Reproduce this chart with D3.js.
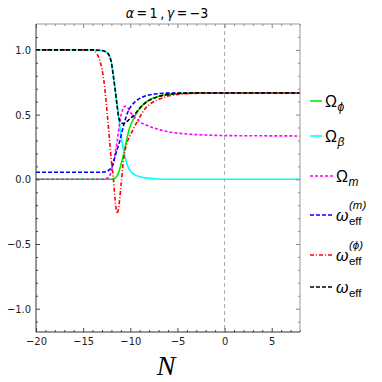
<!DOCTYPE html>
<html>
<head>
<meta charset="utf-8">
<script src="https://cdn.jsdelivr.net/npm/d3@7"></script>
<style>
  body { margin: 0; background: #fff; }
  svg { display: block; }
</style>
</head>
<body>
<script>
// values, as [N, value]
const omegaPhi = [[-20,0],[-12,0],[-11.6,0.01],[-11.3,0.04],[-11,0.11],[-10.7,0.2],[-10.4,0.3],
  [-10.1,0.39],[-9.7,0.46],[-9.3,0.515],[-8.9,0.555],[-8.4,0.593],[-8,0.613],[-7,0.642],
  [-6,0.656],[-5,0.662],[-4,0.665],[-2,0.667],[8,0.667]]
const omegaBeta = [[-20,1],[-14,1],[-13,0.995],[-12.5,0.98],[-12.2,0.95],[-12,0.9],[-11.8,0.8],
  [-11.6,0.69],[-11.4,0.57],[-11.2,0.46],[-11,0.35],[-10.8,0.26],[-10.6,0.19],[-10.4,0.13],
  [-10.2,0.09],[-10,0.065],[-9.8,0.05],[-9.4,0.03],[-9,0.02],[-8,0.007],[-7,0.002],[-6,0],[8,0]]
const omegaM = [[-20,0],[-13,0],[-12.4,0.01],[-12.1,0.04],[-11.8,0.12],[-11.6,0.2],[-11.3,0.34],
  [-11.05,0.47],[-10.8,0.54],[-10.55,0.565],[-10.3,0.555],[-10,0.52],[-9.5,0.475],[-9,0.445],
  [-8.5,0.425],[-8,0.41],[-7,0.385],[-6,0.368],[-5,0.357],[-4,0.35],[-2,0.342],[0,0.338],
  [4,0.336],[8,0.335]]
const wEffM = [[-20,0.055],[-13,0.055],[-12.5,0.06],[-12.2,0.075],[-12,0.09],[-11.8,0.13],
  [-11.6,0.18],[-11.4,0.23],[-11.1,0.3],[-10.8,0.39],[-10.5,0.47],[-10.2,0.53],[-9.8,0.575],
  [-9.4,0.605],[-9,0.625],[-8.5,0.642],[-8,0.652],[-7,0.662],[-6,0.666],[8,0.667]]
const wEffPhi = [[-20,1],[-14,1],[-13.5,0.965],[-13.2,0.91],[-13,0.85],[-12.8,0.76],[-12.6,0.63],
  [-12.4,0.47],[-12.2,0.3],[-12,0.14],[-11.8,0.01],[-11.6,-0.16],[-11.4,-0.265],[-11.2,-0.2],
  [-11,-0.06],[-10.7,0.16],[-10.4,0.27],[-10,0.34],[-9.6,0.4],[-9,0.48],[-8.5,0.54],[-8,0.575],
  [-7.2,0.612],[-6.5,0.63],[-6,0.643],[-5,0.655],[-4,0.661],[-2,0.666],[8,0.667]]
const wEff = [[-20,1],[-14,1],[-13,0.995],[-12.5,0.98],[-12.2,0.95],[-12,0.9],[-11.8,0.8],
  [-11.6,0.69],[-11.4,0.57],[-11.2,0.47],[-11,0.44],[-10.7,0.43],[-10.3,0.45],[-10,0.47],
  [-9.6,0.495],[-9,0.55],[-8.5,0.585],[-8,0.61],[-7,0.64],[-6,0.655],[-5,0.663],[-4,0.666],
  [-2,0.667],[8,0.667]]

const xTicks = [-20, -15, -10, -5, 0, 5]
const yTicks = [-1.0, -0.5, 0.0, 0.5, 1.0]
const xDomain = [-20, 8]
const yDomain = [-1.18, 1.2]

const series = [
  { data: omegaPhi, color: '#00ee00', dash: null, main: 'Ω', sub: 'ϕ', sup: null, long: false },
  { data: omegaBeta, color: '#00ffff', dash: null, main: 'Ω', sub: 'β', sup: null, long: false },
  { data: omegaM, color: '#ff00ff', dash: '3,2', main: 'Ω', sub: 'm', sup: null, long: true },
  { data: wEffM, color: '#0000ff', dash: '4,2', main: 'ω', sub: 'eff', sup: '(m)', long: true },
  { data: wEffPhi, color: '#ff0000', dash: '4,2,1,2', main: 'ω', sub: 'eff', sup: '(ϕ)', long: true },
  { data: wEff, color: '#000000', dash: '4,2', main: 'ω', sub: 'eff', sup: null, long: true }
]

const W = 382, H = 382
const pLeft = 36, pRight = 300, pTop = 24, pBottom = 332

const svg = d3.select('body').append('svg')
  .attr('width', W).attr('height', H)

const x = d3.scaleLinear().domain(xDomain).range([pLeft, pRight])
const y = d3.scaleLinear().domain(yDomain).range([pBottom, pTop])

svg.append('defs').append('clipPath').attr('id', 'clip')
  .append('rect')
  .attr('x', pLeft).attr('y', pTop)
  .attr('width', pRight - pLeft).attr('height', pBottom - pTop)

// title
const title = svg.append('text')
  .attr('x', 167).attr('y', 18)
  .attr('text-anchor', 'middle')
  .style('font-family', 'DejaVu Sans Condensed')
  .style('font-size', '14px')
title.append('tspan').style('font-style', 'italic').text('α')
title.append('tspan').text('\u2009=\u20091\u2009,\u2009')
title.append('tspan').style('font-style', 'italic').text('γ')
title.append('tspan').text('\u2009=\u2009−3')

// zero line
svg.append('line')
  .attr('x1', x(0)).attr('x2', x(0))
  .attr('y1', pTop).attr('y2', pBottom)
  .attr('stroke', '#aaa').attr('stroke-width', 1)
  .attr('stroke-dasharray', '4,3')

// curves
const line = d3.line()
  .x(d => x(d[0]))
  .y(d => y(d[1]))
  .curve(d3.curveMonotoneX)

svg.append('g').attr('clip-path', 'url(#clip)')
  .selectAll('path')
  .data(series)
  .enter().append('path')
  .attr('d', d => line(d.data))
  .attr('fill', 'none')
  .attr('stroke', d => d.color)
  .attr('stroke-width', 1.6)
  .attr('stroke-dasharray', d => d.dash)

// frame with inward ticks
const fmt = d => d3.format('.1f')(d).replace('-', '−')
const tickFont = g => g.selectAll('text')
  .style('font-family', 'DejaVu Sans Condensed')
  .style('font-size', '11px')
  .attr('fill', '#222')

const xMinor = d3.range(-20, 9, 1).filter(v => v % 5 !== 0)
const yMinor = d3.range(-11, 12, 1).map(v => v / 10).filter(v => Math.abs(Math.round(v * 10)) % 5 !== 0)

function frameSide(axisFn, scale, pos, major, minor, labels, stroke) {
  const gMin = svg.append('g').attr('transform', pos)
    .call(axisFn(scale).tickValues(minor).tickSize(-2).tickFormat(''))
  const gMaj = svg.append('g').attr('transform', pos)
    .call(axisFn(scale).tickValues(major).tickSize(-4).tickPadding(5).tickFormat(labels ? labels : ''))
  ;[gMin, gMaj].forEach(g => {
    g.select('.domain').remove()
    g.selectAll('line').attr('stroke', stroke)
  })
  tickFont(gMaj)
  return gMaj
}

frameSide(d3.axisBottom, x, `translate(0,${pBottom})`, xTicks, xMinor, d => String(d).replace('-', '−'), '#444')
frameSide(d3.axisTop, x, `translate(0,${pTop})`, xTicks, xMinor, null, '#888')
frameSide(d3.axisLeft, y, `translate(${pLeft},0)`, yTicks, yMinor, fmt, '#444')
frameSide(d3.axisRight, y, `translate(${pRight},0)`, yTicks, yMinor, null, '#888')

svg.append('line').attr('x1', pLeft).attr('x2', pRight).attr('y1', pTop).attr('y2', pTop)
  .attr('stroke', '#999')
svg.append('line').attr('x1', pRight).attr('x2', pRight).attr('y1', pTop).attr('y2', pBottom)
  .attr('stroke', '#999')
svg.append('line').attr('x1', pLeft).attr('x2', pRight).attr('y1', pBottom).attr('y2', pBottom)
  .attr('stroke', '#333')
svg.append('line').attr('x1', pLeft).attr('x2', pLeft).attr('y1', pTop).attr('y2', pBottom)
  .attr('stroke', '#333')

// axis label
svg.append('text')
  .attr('x', 166).attr('y', 375)
  .attr('text-anchor', 'middle')
  .style('font-family', 'Liberation Serif')
  .style('font-style', 'italic')
  .style('font-size', '28px')
  .text('N')

// legend
const legendY = [101, 136, 176, 215, 255, 287]
const legend = svg.append('g')

series.forEach((s, i) => {
  const ly = legendY[i]
  const x2 = s.long ? 333 : 322
  legend.append('line')
    .attr('x1', 310).attr('x2', x2)
    .attr('y1', ly).attr('y2', ly)
    .attr('stroke', s.color).attr('stroke-width', 1.6)
    .attr('stroke-dasharray', s.dash)

  const tx = x2 + 3
  const main = legend.append('text')
    .attr('x', tx).attr('y', ly + 6)
    .style('font-family', 'Liberation Sans')
    .style('font-size', '16px')
    .style('font-style', s.main === 'ω' ? 'italic' : 'normal')
    .text(s.main)
  const w = main.node().getComputedTextLength()

  legend.append('text')
    .attr('x', tx + w + 0.5).attr('y', ly + 10)
    .style('font-family', 'Liberation Sans')
    .style('font-size', s.sub === 'eff' ? '11.5px' : '12px')
    .style('font-style', s.sub === 'eff' ? 'normal' : 'italic')
    .text(s.sub)

  if (s.sup) {
    legend.append('text')
      .attr('x', tx + w + 0.5).attr('y', ly - 6)
      .style('font-family', 'Liberation Sans')
      .style('font-size', '11.5px')
      .style('font-style', 'italic')
      .text(s.sup)
  }
})
</script>
</body>
</html>
